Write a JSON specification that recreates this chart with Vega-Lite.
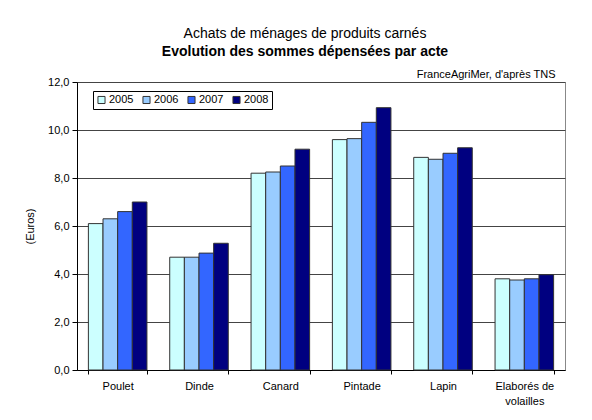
{
  "$schema": "https://vega.github.io/schema/vega-lite/v6.json",
  "width": 488,
  "height": 288,
  "autosize": {"type": "none"},
  "padding": {"left": 77, "top": 82, "right": 27, "bottom": 50},
  "background": "white",
  "config": {
    "font": "Liberation Sans",
    "view": {"stroke": "#888888", "strokeWidth": 1},
    "axis": {"labelFont": "Liberation Sans", "titleFont": "Liberation Sans", "labelColor": "#000", "titleColor": "#000"}
  },
  "title": {
    "text": "Achats de ménages de produits carnés",
    "subtitle": "Evolution des sommes dépensées par acte",
    "anchor": "middle",
    "dx": -16,
    "offset": 9,
    "fontSize": 14,
    "fontWeight": "normal",
    "color": "#000",
    "subtitleFontSize": 14,
    "subtitleFontWeight": "bold",
    "subtitleColor": "#000",
    "subtitlePadding": 4,
    "font": "Liberation Sans",
    "subtitleFont": "Liberation Sans"
  },
  "data": {
    "values": [
      {"produit": "Poulet", "annee": "2005", "valeur": 6.1},
      {"produit": "Poulet", "annee": "2006", "valeur": 6.3},
      {"produit": "Poulet", "annee": "2007", "valeur": 6.6},
      {"produit": "Poulet", "annee": "2008", "valeur": 7.0},
      {"produit": "Dinde", "annee": "2005", "valeur": 4.7},
      {"produit": "Dinde", "annee": "2006", "valeur": 4.7},
      {"produit": "Dinde", "annee": "2007", "valeur": 4.87},
      {"produit": "Dinde", "annee": "2008", "valeur": 5.28},
      {"produit": "Canard", "annee": "2005", "valeur": 8.2},
      {"produit": "Canard", "annee": "2006", "valeur": 8.25},
      {"produit": "Canard", "annee": "2007", "valeur": 8.5},
      {"produit": "Canard", "annee": "2008", "valeur": 9.2},
      {"produit": "Pintade", "annee": "2005", "valeur": 9.6},
      {"produit": "Pintade", "annee": "2006", "valeur": 9.64},
      {"produit": "Pintade", "annee": "2007", "valeur": 10.32},
      {"produit": "Pintade", "annee": "2008", "valeur": 10.93},
      {"produit": "Lapin", "annee": "2005", "valeur": 8.86},
      {"produit": "Lapin", "annee": "2006", "valeur": 8.78},
      {"produit": "Lapin", "annee": "2007", "valeur": 9.03},
      {"produit": "Lapin", "annee": "2008", "valeur": 9.26},
      {"produit": "Elaborés de volailles", "annee": "2005", "valeur": 3.8},
      {"produit": "Elaborés de volailles", "annee": "2006", "valeur": 3.75},
      {"produit": "Elaborés de volailles", "annee": "2007", "valeur": 3.8},
      {"produit": "Elaborés de volailles", "annee": "2008", "valeur": 3.97}
    ]
  },
  "layer": [
    {
      "mark": {"type": "bar", "stroke": "#333333", "strokeWidth": 1},
      "encoding": {
        "x": {
          "field": "produit",
          "type": "nominal",
          "sort": null,
          "scale": {"paddingInner": 0.28, "paddingOuter": 0.14},
          "axis": {
            "title": null,
            "labelAngle": 0,
            "labelFontSize": 11,
            "labelPadding": 6,
            "labelLineHeight": 15,
            "labelExpr": "datum.value == 'Elaborés de volailles' ? ['Elaborés de', 'volailles'] : datum.value",
            "tickBand": "extent",
            "tickColor": "#000",
            "tickSize": 4,
            "domainColor": "#000",
            "grid": false
          }
        },
        "xOffset": {"field": "annee", "type": "nominal"},
        "y": {
          "field": "valeur",
          "type": "quantitative",
          "scale": {"domain": [0, 12]},
          "axis": {
            "title": "(Euros)",
            "titleFontSize": 11,
            "titleFontWeight": "normal",
            "titlePadding": 12,
            "values": [0, 2, 4, 6, 8, 10, 12],
            "labelExpr": "replace(format(datum.value, '.1f'), '.', ',')",
            "labelFontSize": 11,
            "labelPadding": 3,
            "tickColor": "#000",
            "tickSize": 5,
            "domainColor": "#000",
            "grid": true,
            "gridColor": "#444444",
            "gridWidth": 1
          }
        },
        "fill": {
          "field": "annee",
          "type": "nominal",
          "scale": {"domain": ["2005", "2006", "2007", "2008"], "range": ["#CCFFFF", "#99CCFF", "#3366FF", "#000080"]},
          "legend": {
            "title": null,
            "orient": "none",
            "legendX": 16,
            "legendY": 9,
            "direction": "horizontal",
            "symbolType": "square",
            "symbolSize": 50,
            "symbolStrokeColor": "#333",
            "symbolStrokeWidth": 1,
            "symbolOpacity": 1,
            "labelFontSize": 11,
            "labelColor": "#000",
            "labelOffset": 2,
            "columnPadding": 6,
            "padding": 3,
            "strokeColor": "#000",
            "fillColor": "white"
          }
        }
      }
    },
    {
      "mark": {"type": "tick", "opacity": 0},
      "encoding": {
        "x": {
          "field": "produit",
          "type": "nominal",
          "sort": null,
          "axis": {
            "orient": "top",
            "labels": false,
            "ticks": false,
            "domain": false,
            "grid": false,
            "title": "FranceAgriMer, d'après TNS",
            "titleFontSize": 11,
            "titleFontWeight": "normal",
            "titleAnchor": "end",
            "titleAlign": "right",
            "titleX": 478,
            "titlePadding": 3
          }
        },
        "y": {"field": "valeur", "type": "quantitative"}
      }
    }
  ],
  "resolve": {"axis": {"x": "independent"}}
}
